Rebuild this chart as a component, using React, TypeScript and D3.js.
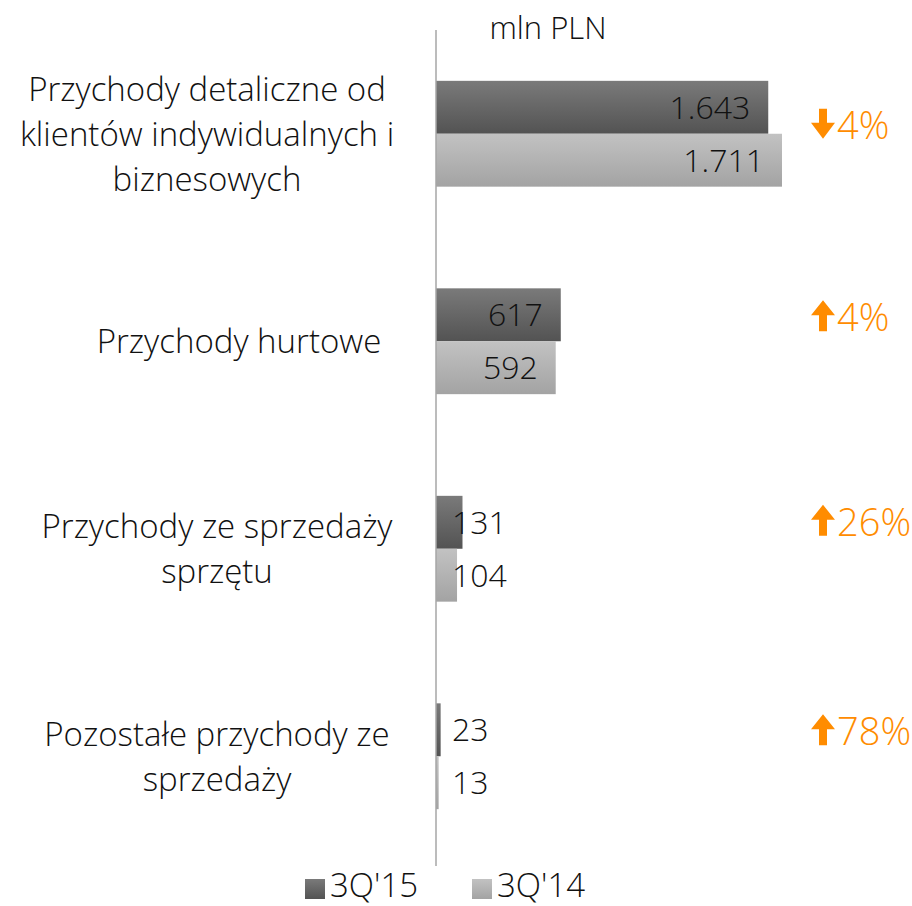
import * as d3 from "d3";
import { useEffect, useRef } from "react";

const categories = [
  ["Przychody detaliczne od", "klientów indywidualnych i", "biznesowych"],
  ["Przychody hurtowe"],
  ["Przychody ze sprzedaży", "sprzętu"],
  ["Pozostałe przychody ze", "sprzedaży"],
];
const series15 = [1643, 617, 131, 23];
const series14 = [1711, 592, 104, 13];
const seriesNames = ["3Q'15", "3Q'14"];
const changes = ["4%", "4%", "26%", "78%"];
const changeDir = ["down", "up", "up", "up"];

const W = 912;
const H = 906;
const FONT = "'Open Sans', sans-serif";
const ORANGE = "#FF8C00";

const fmt = (v: number) => d3.format(",")(v).replace(/,/g, ".");

export default function App() {
  const svgRef = useRef<SVGSVGElement>(null);

  useEffect(() => {
    const svg = d3.select(svgRef.current);
    svg.selectAll("*").remove();

    const defs = svg.append("defs");
    const grad = (id: string, top: string, bottom: string) => {
      const g = defs
        .append("linearGradient")
        .attr("id", id)
        .attr("x1", 0)
        .attr("y1", 0)
        .attr("x2", 0)
        .attr("y2", 1);
      g.append("stop").attr("offset", "0%").attr("stop-color", top);
      g.append("stop").attr("offset", "100%").attr("stop-color", bottom);
    };
    grad("gDark", "#7a7a7a", "#535353");
    grad("gLight", "#c2c2c2", "#a3a3a3");
    const fills = ["url(#gDark)", "url(#gLight)"];

    const x0 = 436;
    const x = d3.scaleLinear().domain([0, 1711]).range([0, 346]);
    const y = d3
      .scaleBand<number>()
      .domain(d3.range(categories.length))
      .range([30, 860])
      .paddingInner(0.49)
      .paddingOuter(0.245);
    const inner = d3
      .scaleBand<number>()
      .domain([0, 1])
      .range([0, y.bandwidth()]);

    const groups = svg
      .selectAll("g.grp")
      .data(categories)
      .join("g")
      .attr("class", "grp")
      .attr("transform", (_, i) => `translate(0,${y(i)})`);

    const vals = [series15, series14];
    groups.each(function (_, i) {
      const g = d3.select(this);
      [0, 1].forEach((s) => {
        const v = vals[s][i];
        const bw = x(v);
        g.append("rect")
          .attr("x", x0)
          .attr("y", inner(s)!)
          .attr("width", bw)
          .attr("height", inner.bandwidth())
          .attr("fill", fills[s]);
        const big = bw > 100;
        g.append("text")
          .attr("x", big ? x0 + bw - 18 : x0 + 16)
          .attr("y", inner(s)! + inner.bandwidth() / 2)
          .attr("dy", "0.36em")
          .attr("text-anchor", big ? "end" : "start")
          .attr("font-family", FONT)
          .attr("font-weight", 300)
          .attr("font-size", 32)
          .attr("fill", "#111")
          .text(fmt(v));
      });
    });

    // category labels
    const lh = 45;
    groups.each(function (lines, i) {
      const g = d3.select(this);
      const c = y.bandwidth() / 2;
      const start = c - ((lines.length - 1) * lh) / 2;
      g.append("text")
        .attr("font-family", FONT)
        .attr("font-weight", 300)
        .attr("font-size", 33)
        .attr("fill", "#111")
        .attr("text-anchor", "middle")
        .selectAll("tspan")
        .data(lines)
        .join("tspan")
        .attr("x", i === 1 ? 239 : i === 0 ? 207 : 217)
        .attr("y", (_, k) => start + k * lh)
        .attr("dy", "0.36em")
        .text((d) => d);
    });

    // change indicators
    const pctOffsets = [5, -10, -13, -11];
    groups.each(function (_, i) {
      const g = d3.select(this);
      const base = y.bandwidth() / 2 + pctOffsets[i];
      const ax = 811;
      const up = changeDir[i] === "up";
      const top = base - 31;
      const h = 31;
      const pts = up
        ? [
            [ax + 12, top],
            [ax + 24, top + 15],
            [ax + 16, top + 15],
            [ax + 16, top + h],
            [ax + 8, top + h],
            [ax + 8, top + 15],
            [ax, top + 15],
          ]
        : [
            [ax + 8, top + 1],
            [ax + 16, top + 1],
            [ax + 16, top + 15],
            [ax + 24, top + 15],
            [ax + 12, top + h],
            [ax, top + 15],
            [ax + 8, top + 15],
          ];
      g.append("polygon")
        .attr("points", pts.map((p) => p.join(",")).join(" "))
        .attr("fill", ORANGE);
      g.append("text")
        .attr("x", ax + 26)
        .attr("y", base)
        .attr("font-family", FONT)
        .attr("font-weight", 300)
        .attr("font-size", 38)
        .attr("fill", ORANGE)
        .text(changes[i]);
    });

    // axis
    svg
      .append("line")
      .attr("x1", x0)
      .attr("x2", x0)
      .attr("y1", 30)
      .attr("y2", 866)
      .attr("stroke", "#a6a6a6")
      .attr("stroke-width", 1.5);

    svg
      .append("text")
      .attr("x", 548)
      .attr("y", 28)
      .attr("dy", "0.36em")
      .attr("text-anchor", "middle")
      .attr("font-family", FONT)
      .attr("font-weight", 300)
      .attr("font-size", 31)
      .attr("fill", "#111")
      .text("mln PLN");

    // legend
    const legX = [305, 472];
    seriesNames.forEach((n, s) => {
      const lg = svg.append("g").attr("transform", `translate(${legX[s]},886)`);
      lg.append("rect")
        .attr("x", 0)
        .attr("y", -7)
        .attr("width", 20)
        .attr("height", 20)
        .attr("fill", fills[s]);
      lg.append("text")
        .attr("x", 25)
        .attr("y", 11)
        .attr("font-family", FONT)
        .attr("font-weight", 300)
        .attr("font-size", 33)
        .attr("fill", "#111")
        .text(n);
    });
  }, []);

  return (
    <svg
      ref={svgRef}
      width={W}
      height={H}
      style={{ position: "absolute", left: 0, top: 0, background: "#fff" }}
    />
  );
}
